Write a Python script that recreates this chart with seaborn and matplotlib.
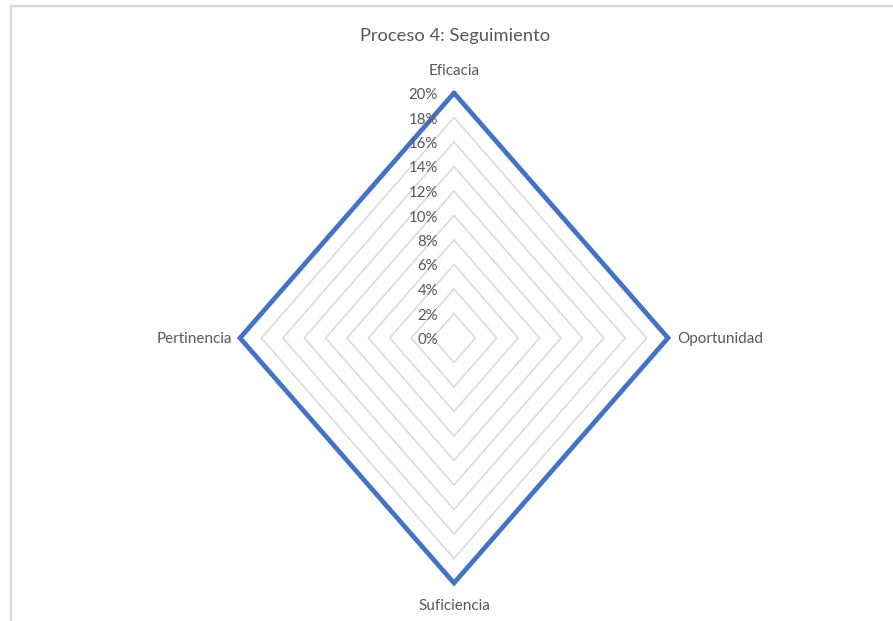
import numpy as np
import pandas as pd
import matplotlib
matplotlib.use("Agg")
import matplotlib.pyplot as plt
from matplotlib.lines import Line2D
import seaborn as sns

categories = ["Eficacia", "Oportunidad", "Suficiencia", "Pertinencia"]
values = [20, 20, 20, 20]  # percent
grid_levels = [2, 4, 6, 8, 10, 12, 14, 16, 18, 20]
tick_labels = ["0%", "2%", "4%", "6%", "8%", "10%", "12%", "14%", "16%", "18%", "20%"]
tick_values = [0, 2, 4, 6, 8, 10, 12, 14, 16, 18, 20]
title = "Proceso 4: Seguimiento"

sns.set_theme(style="white")
plt.rcParams["font.family"] = ["Lato", "DejaVu Sans"]

W, H = 893, 621
fig = plt.figure(figsize=(W / 100, H / 100), dpi=100)
fig.patch.set_facecolor("white")

cx, cy = 454, 338
rx, ry = 214, 245
ax = fig.add_axes([(cx - rx) / W, (H - cy - ry) / H, 2 * rx / W, 2 * ry / H])
rmax = 20
ax.set_xlim(-rmax, rmax)
ax.set_ylim(-rmax, rmax)
ax.axis("off")

n = len(categories)
angles = np.arange(n) * 2 * np.pi / n  # clockwise from top


def poly(r_vals):
    r_vals = list(r_vals) + [r_vals[0]]
    a = list(angles) + [angles[0]]
    return pd.DataFrame({"x": np.array(r_vals) * np.sin(a),
                         "y": np.array(r_vals) * np.cos(a)})

grid_color = "#D9D9D9"
for lvl in grid_levels[:-1]:
    d = poly([lvl] * n)
    sns.lineplot(data=d, x="x", y="y", sort=False, estimator=None, ax=ax,
                 color=grid_color, linewidth=1.1)

d = poly(values)
sns.lineplot(data=d, x="x", y="y", sort=False, estimator=None, ax=ax,
             color="#4472C4", linewidth=3.4, clip_on=False)
for line in ax.lines:
    line.set_clip_on(False)
    line.set_solid_joinstyle("miter")

txt_color = "#595959"
# radial tick labels
for v, lab in zip(tick_values, tick_labels):
    ax.annotate(lab, xy=(0, v), xytext=(-16, -2), textcoords="offset pixels",
                ha="right", va="center", fontsize=10.8, color=txt_color)

# category labels
offsets = {
    0: dict(xytext=(0, 22), ha="center", va="center"),
    1: dict(xytext=(9, -1), ha="left", va="center"),
    2: dict(xytext=(0, -23), ha="center", va="center"),
    3: dict(xytext=(-8, -1), ha="right", va="center"),
}
for i, (cat, v) in enumerate(zip(categories, values)):
    x = rmax * np.sin(angles[i])
    y = rmax * np.cos(angles[i])
    o = offsets[i]
    ax.annotate(cat, xy=(x, y), xytext=o["xytext"], textcoords="offset pixels",
                ha=o["ha"], va=o["va"], fontsize=11, color=txt_color)

fig.text(455 / W, 1 - 36 / H, title, ha="center", va="center",
         fontsize=13.2, color=txt_color)

# chart-area border (top and left visible)
fig.add_artist(Line2D([10.5 / W, 893 / W], [1 - 5.5 / H, 1 - 5.5 / H],
                      transform=fig.transFigure, color=grid_color, linewidth=1.6))
fig.add_artist(Line2D([10.5 / W, 10.5 / W], [0, 1 - 5.5 / H],
                      transform=fig.transFigure, color=grid_color, linewidth=1.6))

fig.savefig("out.png", dpi=100, facecolor="white")
